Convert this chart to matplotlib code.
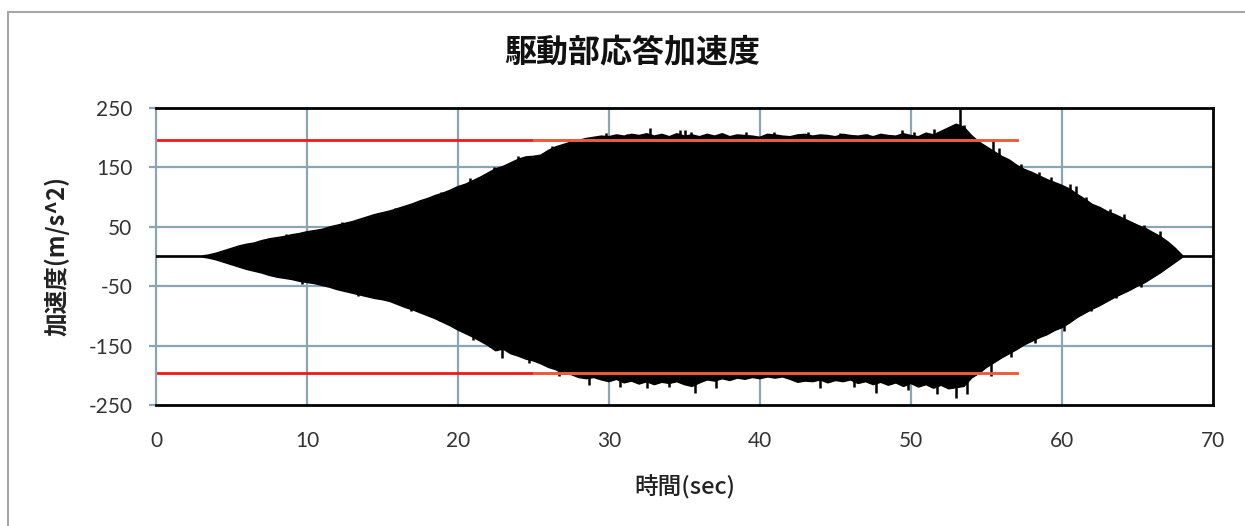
import numpy as np
import matplotlib
matplotlib.use("Agg")
import matplotlib.pyplot as plt
from matplotlib.patches import Rectangle

# ---------------- data ----------------
t_start, t_step = 3.0, 0.5
upper_env = [0, 2, 5, 9, 13, 17, 20, 22, 26, 29, 31, 33, 36, 38, 41, 43, 45, 49, 52, 55,
             58, 62, 66, 70, 73, 76, 80, 84, 88, 93, 97, 102, 106, 111, 117, 121, 127, 133, 140, 147,
             151, 157, 163, 167, 168, 170, 178, 184, 188, 192, 195, 198, 200, 202, 201, 204, 202, 205, 203, 206,
             202, 205, 201, 206, 202, 204, 201, 205, 202, 206, 201, 204, 203, 202, 200, 205, 204, 202, 201, 204,
             205, 202, 204, 203, 201, 205, 203, 202, 204, 201, 205, 203, 202, 206, 203, 201, 207, 204, 210, 216,
             222, 217, 203, 192, 184, 176, 168, 162, 153, 146, 141, 135, 129, 124, 119, 113, 104, 96, 87, 82,
             75, 70, 64, 58, 52, 47, 40, 33, 24, 13, 0]
lower_env = [0, -2, -5, -9, -13, -17, -21, -24, -27, -31, -34, -36, -38, -41, -43, -45, -48, -51, -55, -58,
             -61, -64, -67, -70, -72, -75, -80, -85, -89, -94, -99, -104, -110, -116, -123, -129, -135, -142, -149, -158,
             -155, -163, -167, -172, -175, -180, -186, -190, -197, -198, -203, -205, -203, -207, -210, -206, -212, -209, -214, -210,
             -215, -211, -213, -210, -215, -218, -212, -207, -209, -205, -208, -204, -206, -203, -205, -202, -204, -202, -206, -211,
             -209, -210, -207, -212, -208, -210, -207, -213, -210, -215, -211, -216, -212, -218, -213, -219, -215, -221, -216, -222,
             -220, -218, -204, -196, -186, -178, -170, -163, -156, -148, -142, -136, -131, -124, -119, -111, -102, -95, -88, -82,
             -75, -68, -62, -56, -49, -43, -35, -27, -18, -9, 0]

up_spike_t = [8.6, 12.3, 15.8, 18.9, 20.8, 22.4, 24.0, 26.2, 27.5,
              29.8, 31.2, 32.7, 34.7, 35.0, 35.4, 37.6, 39.1, 40.9, 43.2, 45.3, 47.1, 49.4, 50.2, 51.5, 52.9, 53.25, 53.5,
              55.45, 55.8, 57.3, 58.5, 59.3, 60.5, 60.9, 61.6, 63.2, 64.1, 65.4, 66.5]
up_spike_v = [38, 58, 82, 108, 132, 150, 170, 186, 197,
              208, 207, 217, 213, 213, 209, 207, 209, 209, 210, 208, 207, 213, 209, 215, 223, 249, 221,
              196, 182, 156, 142, 133, 122, 118, 101, 80, 72, 53, 43]
lo_spike_t = [9.7, 13.4, 16.9, 18.8, 21.0, 22.1, 22.9, 24.7, 26.7, 28.7,
              30.7, 32.5, 34.0, 35.7, 37.1, 44.0, 46.2, 47.7, 49.8, 51.7, 53.0, 53.7,
              55.3, 56.6, 58.2, 60.1, 61.9, 63.6, 65.2]
lo_spike_v = [-46, -67, -92, -109, -141, -153, -171, -180, -202, -216,
              -219, -221, -219, -230, -221, -221, -220, -230, -224, -232, -238, -232,
              -201, -170, -146, -125, -92, -70, -52]

limit_value = 196
red_span = [0, 28.3]
orange_span = [25, 57]

x_ticks = [0, 10, 20, 30, 40, 50, 60, 70]
y_ticks = [-250, -150, -50, 50, 150, 250]

title = "駆動部応答加速度"
x_label = "時間(sec)"
y_label = "加速度(m/s^2)"

# ---------------- build time axis ----------------
t_env = t_start + t_step * np.arange(len(upper_env))
t_all = np.concatenate([[0.0], t_env, [70.0]])
up_all = np.concatenate([[0.0], upper_env, [0.0]])
lo_all = np.concatenate([[0.0], lower_env, [0.0]])

# ---------------- figure ----------------
W, H = 1245, 526
fig = plt.figure(figsize=(W / 100, H / 100), dpi=100)
fig.patch.set_facecolor("white")

# outer chart border
fig.patches.append(Rectangle((8 / W, -0.1), 1.2, 1 - 12 / H + 0.1, transform=fig.transFigure,
                             fill=False, edgecolor="#A6A6A6", linewidth=1.5))

ax = fig.add_axes([156 / W, 1 - 405 / H, (1213 - 156) / W, (405 - 108) / H])
ax.set_xlim(0, 70)
ax.set_ylim(-250, 250)

grid_c = "#8CA5B3"
for v in [-150, -50, 50, 150]:
    ax.axhline(v, color=grid_c, lw=1.6, zorder=1)
for v in [10, 20, 30, 40, 50, 60]:
    ax.axvline(v, color=grid_c, lw=1.6, zorder=1)

# red limit lines
for s in (1, -1):
    ax.plot(orange_span, [s * limit_value] * 2, color="#F0704E", lw=2.0, zorder=5)
    ax.plot(red_span, [s * limit_value] * 2, color="#F01818", lw=2.0, zorder=2)

# signal
ax.fill_between(t_all, lo_all, up_all, color="black", lw=0, zorder=3)
ax.plot(t_all, up_all, color="black", lw=1.6, zorder=3)
ax.plot(t_all, lo_all, color="black", lw=1.6, zorder=3)
ax.vlines(up_spike_t, 0, up_spike_v, color="black", lw=1.8, zorder=3)
ax.vlines(lo_spike_t, 0, lo_spike_v, color="black", lw=1.8, zorder=3)

# orange line over data
for s in (1, -1):
    ax.plot(orange_span, [s * limit_value] * 2, color="#EE5A38", lw=1.8, zorder=6)

# spines
for side in ["top", "bottom", "right"]:
    ax.spines[side].set_color("black")
    ax.spines[side].set_linewidth(2.0)
ax.spines["left"].set_color(grid_c)
ax.spines["left"].set_linewidth(1.6)

ax.set_xticks(x_ticks)
ax.set_yticks(y_ticks)
tick_font = dict(family=["Lato", "DejaVu Sans"], size=15)
ax.set_xticklabels([str(v) for v in x_ticks], color="#333333", **tick_font)
ax.set_yticklabels([str(v) for v in y_ticks], color="#333333", **tick_font)
ax.tick_params(axis="x", length=0, pad=19)
ax.tick_params(axis="y", length=5, width=1.6, color=grid_c, pad=12)

cjk = ["Noto Sans CJK JP", "DejaVu Sans"]
ax.set_xlabel(x_label, family=cjk, fontsize=17, fontweight="medium", color="#222222")
ax.xaxis.set_label_coords(0.5, -0.235)
ax.set_ylabel(y_label, family=cjk, fontsize=17, fontweight="bold", color="#222222")
ax.yaxis.set_label_coords(-0.082, 0.5)

fig.text(632 / W, 1 - 53 / H, title, family=cjk, fontsize=23, fontweight="bold",
         ha="center", va="center", color="#111111")

fig.savefig("out.png", dpi=100, facecolor="white")
